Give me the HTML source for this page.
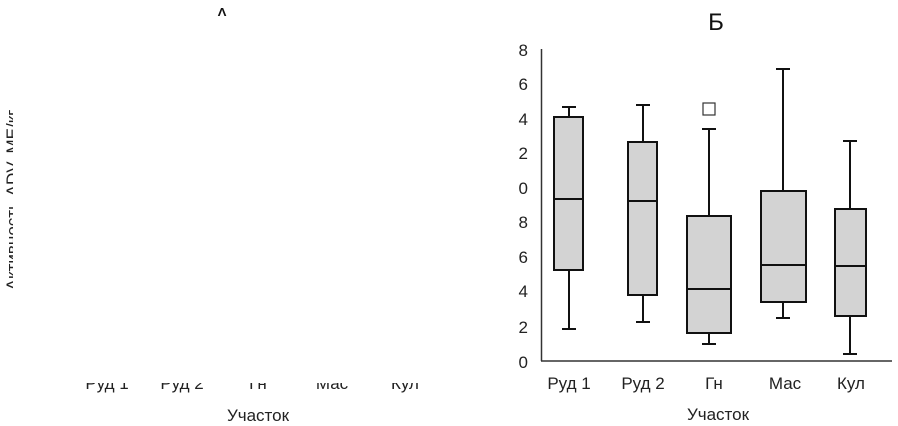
<!DOCTYPE html>
<html><head><meta charset="utf-8"><style>
html,body{margin:0;padding:0;background:#fff;}
svg{display:block;font-family:"Liberation Sans",Arial,sans-serif;}
</style></head><body>
<svg width="898" height="426" viewBox="0 0 898 426" xmlns="http://www.w3.org/2000/svg">
<defs>
<clipPath id="cb"><rect x="0" y="383" width="450" height="20"/></clipPath>
<clipPath id="cl"><rect x="0" y="95" width="13" height="220"/></clipPath>
<clipPath id="ct"><rect x="200" y="0" width="50" height="16"/></clipPath>
</defs>
<text x="222" y="22" font-size="20" text-anchor="middle" clip-path="url(#ct)" fill="#111">A</text>
<g clip-path="url(#cl)"><text transform="translate(18,200) rotate(-90)" font-size="17" text-anchor="middle" fill="#222">Активность ADV, МЕ/кг</text></g>
<g clip-path="url(#cb)" font-size="17" fill="#222" text-anchor="middle">
<text x="107" y="389">Руд 1</text><text x="182" y="389">Руд 2</text><text x="258" y="389">Гн</text><text x="332" y="389">Мас</text><text x="405" y="389">Кул</text>
</g>
<text x="258" y="421" font-size="17" text-anchor="middle" fill="#222">Участок</text>

<text x="716" y="30" font-size="24" text-anchor="middle" fill="#111">Б</text>
<g font-size="17" fill="#222" text-anchor="end">
<text x="528" y="56">8</text><text x="528" y="90">6</text><text x="528" y="125">4</text><text x="528" y="159">2</text><text x="528" y="194">0</text><text x="528" y="228">8</text><text x="528" y="263">6</text><text x="528" y="297">4</text><text x="528" y="333">2</text><text x="528" y="368">0</text>
</g>
<g stroke="#333" stroke-width="1.5" fill="none">
<line x1="541.5" y1="49" x2="541.5" y2="361"/>
<line x1="541" y1="361" x2="892" y2="361"/>
</g>
<g stroke="#111" stroke-width="2">
<line x1="569" y1="107" x2="569" y2="329"/><line x1="562" y1="107" x2="576" y2="107"/><line x1="562" y1="329" x2="576" y2="329"/>
<rect x="554" y="117" width="29" height="153" fill="#d3d3d3"/><line x1="554" y1="199" x2="583" y2="199"/>
<line x1="643" y1="105" x2="643" y2="322"/><line x1="636" y1="105" x2="650" y2="105"/><line x1="636" y1="322" x2="650" y2="322"/>
<rect x="628" y="142" width="29" height="153" fill="#d3d3d3"/><line x1="628" y1="201" x2="657" y2="201"/>
<line x1="709" y1="129" x2="709" y2="344"/><line x1="702" y1="129" x2="716" y2="129"/><line x1="702" y1="344" x2="716" y2="344"/>
<rect x="687" y="216" width="44" height="117" fill="#d3d3d3"/><line x1="687" y1="289" x2="731" y2="289"/>
<line x1="783" y1="69" x2="783" y2="318"/><line x1="776" y1="69" x2="790" y2="69"/><line x1="776" y1="318" x2="790" y2="318"/>
<rect x="761" y="191" width="45" height="111" fill="#d3d3d3"/><line x1="761" y1="265" x2="806" y2="265"/>
<line x1="850" y1="141" x2="850" y2="354"/><line x1="843" y1="141" x2="857" y2="141"/><line x1="843" y1="354" x2="857" y2="354"/>
<rect x="835" y="209" width="31" height="107" fill="#d3d3d3"/><line x1="835" y1="266" x2="866" y2="266"/>
</g>
<rect x="703" y="103" width="12" height="12" fill="#fff" stroke="#333" stroke-width="1.2"/>
<g font-size="17" fill="#222" text-anchor="middle">
<text x="569" y="389">Руд 1</text><text x="643" y="389">Руд 2</text><text x="714" y="389">Гн</text><text x="785" y="389">Мас</text><text x="851" y="389">Кул</text>
</g>
<text x="718" y="420" font-size="17" text-anchor="middle" fill="#222">Участок</text>
</svg>
</body></html>
